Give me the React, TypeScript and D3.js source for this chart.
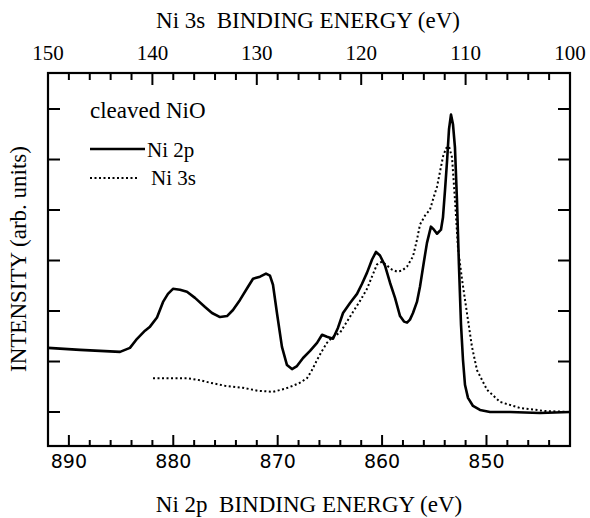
import React from 'react';
import * as d3 from 'd3';

// Ni 2p spectrum (bottom axis, binding energy in eV) and intensity (arb. units)
const ni2pEnergy = [
  892.0, 888.93, 887.02, 885.1, 884.15, 883.47, 882.71, 882.23, 881.56, 880.98,
  880.51, 880.03, 879.36, 878.69, 877.92, 876.96, 876.29, 875.52, 874.85, 874.28,
  873.61, 872.84, 872.36, 871.69, 871.12, 870.74, 870.45, 870.07, 869.59, 869.11,
  868.63, 868.15, 867.57, 866.9, 866.23, 865.75, 865.28, 864.7, 864.22, 863.74,
  863.07, 862.4, 861.92, 861.44, 860.96, 860.58, 860.2, 859.72, 859.24, 858.76,
  858.28, 857.9, 857.61, 857.33, 857.04, 856.66, 856.37, 855.99, 855.7, 855.32,
  855.03, 854.74, 854.36, 854.17, 853.97, 853.78, 853.59, 853.4, 853.21, 853.02,
  852.83, 852.64, 852.44, 852.25, 852.06, 851.77, 851.29, 850.62, 849.66, 847.75,
  844.87, 842.0,
];
const ni2pIntensity = [
  2.27, 2.23, 2.21, 2.19, 2.27, 2.45, 2.61, 2.69, 2.87, 3.18,
  3.34, 3.44, 3.42, 3.38, 3.26, 3.08, 2.96, 2.88, 2.9, 3.02,
  3.22, 3.48, 3.64, 3.68, 3.74, 3.7, 3.52, 2.96, 2.29, 1.93,
  1.85, 1.91, 2.07, 2.21, 2.37, 2.53, 2.49, 2.45, 2.67, 2.96,
  3.16, 3.34, 3.54, 3.76, 4.02, 4.17, 4.1, 3.9, 3.56, 3.26,
  2.9, 2.79, 2.77, 2.83, 2.96, 3.18, 3.48, 3.98, 4.35, 4.67,
  4.61, 4.53, 4.61, 4.85, 5.4, 5.96, 6.6, 6.89, 6.7, 6.24,
  5.21, 3.92, 2.73, 2.03, 1.54, 1.28, 1.12, 1.04, 1.0, 1.0,
  0.98, 1.0,
];

// Ni 3s spectrum (top axis)
const ni3sEnergy = [
  139.94, 138.31, 136.69, 135.44, 134.48, 133.05, 131.32, 129.89, 128.45, 127.3,
  126.53, 125.86, 125.19, 124.71, 124.23, 123.75, 123.28, 122.7, 122.03, 121.36,
  120.79, 120.11, 119.44, 118.97, 118.49, 118.01, 117.53, 117.05, 116.57, 116.09,
  115.61, 115.04, 114.66, 114.37, 113.89, 113.41, 113.03, 112.74, 112.45, 112.16,
  111.88, 111.59, 111.3, 111.02, 110.73, 110.34, 109.87, 109.39, 108.91, 107.95,
  106.7, 104.79, 102.39, 100.0,
];
const ni3sIntensity = [
  1.67, 1.67, 1.67, 1.63, 1.58, 1.52, 1.48, 1.42, 1.4, 1.46,
  1.52, 1.58, 1.67, 1.83, 2.03, 2.21, 2.37, 2.49, 2.57, 2.79,
  2.98, 3.2, 3.44, 3.68, 3.92, 3.98, 3.9, 3.82, 3.78, 3.8,
  3.88, 4.08, 4.41, 4.71, 4.89, 5.01, 5.27, 5.46, 5.76, 6.06,
  6.22, 6.26, 6.04, 5.21, 4.25, 3.62, 2.96, 2.29, 1.83, 1.44,
  1.2, 1.08, 1.02, 1.0,
];

const bottomTicks = [890, 880, 870, 860, 850];
const topTicks = [150, 140, 130, 120, 110, 100];
const yTicks = [1, 2, 3, 4, 5, 6, 7];

const serif = "'Liberation Serif', 'Times New Roman', Times, serif";
const sans = "'DejaVu Sans', Verdana, sans-serif";

const W = 590;
const H = 518;
const left = 48;
const right = 570;
const top = 73;
const bottom = 446;

const serifStyle = { fontFamily: serif };
const sansStyle = { fontFamily: sans };

export default function App() {
  const xB = d3.scaleLinear().domain([892, 842]).range([left, right]);
  const xT = d3.scaleLinear().domain([150, 100]).range([left, right]);
  const y = d3.scaleLinear().domain([0.327, 7.713]).range([bottom, top]);

  const lineB = d3
    .line<number>()
    .x((d, i) => xB(ni2pEnergy[i]))
    .y((d) => y(d));
  const lineT = d3
    .line<number>()
    .x((d, i) => xT(ni3sEnergy[i]))
    .y((d) => y(d));

  const minorB = d3.range(892, 841, -2).filter((v) => v % 10 !== 0);
  const minorT = d3.range(150, 99, -2).filter((v) => v % 10 !== 0);

  return (
    <svg
      width={W}
      height={H}
      style={{ position: 'absolute', left: 0, top: 0, background: '#fff' }}
    >
      <defs>
        <clipPath id="plot">
          <rect x={left} y={top} width={right - left} height={bottom - top} />
        </clipPath>
      </defs>

      {/* frame */}
      <rect
        x={left}
        y={top}
        width={right - left}
        height={bottom - top}
        fill="none"
        stroke="#000"
        strokeWidth={2.2}
      />

      {/* bottom axis ticks */}
      {bottomTicks.map((t) => (
        <g key={'b' + t}>
          <line x1={xB(t)} x2={xB(t)} y1={bottom} y2={bottom - 11} stroke="#000" strokeWidth={2} />
          <text x={xB(t)} y={468} textAnchor="middle" style={sansStyle} fontSize={19}>
            {t}
          </text>
        </g>
      ))}
      {minorB.map((t) => (
        <line key={'bm' + t} x1={xB(t)} x2={xB(t)} y1={bottom} y2={bottom - 6} stroke="#000" strokeWidth={2} />
      ))}

      {/* top axis ticks */}
      {topTicks.map((t) => (
        <g key={'t' + t}>
          <line x1={xT(t)} x2={xT(t)} y1={top} y2={top + 12} stroke="#000" strokeWidth={2} />
          <text x={xT(t)} y={60} textAnchor="middle" style={serifStyle} fontSize={21}>
            {t}
          </text>
        </g>
      ))}
      {minorT.map((t) => (
        <line key={'tm' + t} x1={xT(t)} x2={xT(t)} y1={top} y2={top + 7} stroke="#000" strokeWidth={2} />
      ))}

      {/* y ticks both sides */}
      {yTicks.map((t) => (
        <g key={'y' + t}>
          <line x1={left} x2={left + 12} y1={y(t)} y2={y(t)} stroke="#000" strokeWidth={2} />
          <line x1={right} x2={right - 12} y1={y(t)} y2={y(t)} stroke="#000" strokeWidth={2} />
        </g>
      ))}

      {/* curves */}
      <g clipPath="url(#plot)">
        <path
          d={lineT(ni3sIntensity) || ''}
          fill="none"
          stroke="#000"
          strokeWidth={2}
          strokeDasharray="2,2.5"
        />
        <path
          d={lineB(ni2pIntensity) || ''}
          fill="none"
          stroke="#000"
          strokeWidth={2.6}
          strokeLinejoin="round"
        />
      </g>

      {/* titles */}
      <text x={308} y={28} textAnchor="middle" style={{ ...serifStyle, whiteSpace: 'pre' }} fontSize={23}>
        {'Ni 3s  BINDING ENERGY (eV)'}
      </text>
      <text x={309} y={512} textAnchor="middle" style={{ ...serifStyle, whiteSpace: 'pre' }} fontSize={23}>
        {'Ni 2p  BINDING ENERGY (eV)'}
      </text>
      <text
        transform="translate(26,259) rotate(-90)"
        textAnchor="middle"
        style={serifStyle}
        fontSize={23}
      >
        INTENSITY (arb. units)
      </text>

      {/* legend */}
      <text x={90} y={118} style={serifStyle} fontSize={23}>
        cleaved NiO
      </text>
      <line x1={90} x2={145} y1={149} y2={149} stroke="#000" strokeWidth={2.6} />
      <text x={147} y={157} style={serifStyle} fontSize={21}>
        Ni 2p
      </text>
      <line x1={90} x2={138} y1={178} y2={178} stroke="#000" strokeWidth={2} strokeDasharray="2,2.5" />
      <text x={151} y={185} style={serifStyle} fontSize={21}>
        Ni 3s
      </text>
    </svg>
  );
}
